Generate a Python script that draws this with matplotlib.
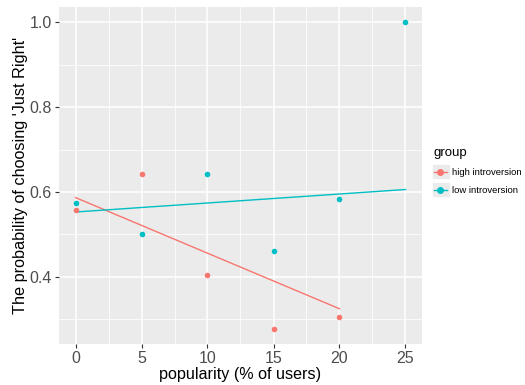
import matplotlib.pyplot as plt
from matplotlib.lines import Line2D

plt.rcParams['font.family'] = ['Liberation Sans', 'DejaVu Sans']

# point data
high_x = [0, 5, 10, 15, 20]
high_y = [0.558, 0.643, 0.405, 0.278, 0.306]
low_x = [0, 5, 10, 15, 20, 25]
low_y = [0.575, 0.500, 0.643, 0.462, 0.583, 1.000]

# fitted lines (endpoints as drawn)
high_line_x = [0, 20]
high_line_y = [0.587, 0.325]
low_line_x = [0, 25]
low_line_y = [0.553, 0.606]

x_ticks = [0, 5, 10, 15, 20, 25]
y_ticks = [0.4, 0.6, 0.8, 1.0]

red = '#F8766D'
teal = '#00BFC4'

fig = plt.figure(figsize=(5.25, 3.85), dpi=100)
ax = fig.add_axes([59 / 525, 1 - 344 / 385, (422 - 59) / 525, (344 - 7) / 385])
ax.set_facecolor('#EBEBEB')

ax.plot(high_line_x, high_line_y, color=red, lw=1.0, zorder=3)
ax.plot(low_line_x, low_line_y, color=teal, lw=1.0, zorder=3)
ax.scatter(high_x, high_y, color=red, s=16, zorder=4, linewidths=0)
ax.scatter(low_x, low_y, color=teal, s=16, zorder=4, linewidths=0)

ax.set_xlim(-1.25, 26.25)
ax.set_ylim(0.242, 1.036)
ax.set_xticks(x_ticks)
ax.set_xticks([2.5, 7.5, 12.5, 17.5, 22.5], minor=True)
ax.set_yticks(y_ticks)
ax.set_yticklabels(['0.4', '0.6', '0.8', '1.0'])
ax.set_yticks([0.3, 0.5, 0.7, 0.9], minor=True)
ax.grid(which='major', color='white', lw=1.1)
ax.grid(which='minor', color='white', lw=0.55)
ax.set_axisbelow(True)
for s in ax.spines.values():
    s.set_visible(False)
ax.tick_params(which='major', length=3, color='#333333', labelsize=11.5,
               labelcolor='#4D4D4D', pad=2)
ax.tick_params(which='minor', length=0)

ax.set_xlabel('popularity (% of users)', fontsize=11.6, labelpad=1)
ax.set_ylabel("The probability of choosing 'Just Right'", fontsize=11.7, labelpad=1)

handles = [
    Line2D([], [], color=red, marker='o', markersize=4, lw=1.0),
    Line2D([], [], color=teal, marker='o', markersize=4, lw=1.0),
]
leg = fig.legend(handles, ['high introversion', 'low introversion'], title='group',
                 loc='upper left', bbox_to_anchor=(434 / 525, 1 - 147 / 385),
                 frameon=False, fontsize=6.8, title_fontsize=9.5,
                 handlelength=1.35, handletextpad=0.55, labelspacing=0.95,
                 borderpad=0, borderaxespad=0)
leg._legend_box.align = 'left'

# grey key backgrounds as in ggplot legends
for y0 in (165, 183):
    fig.patches.append(plt.Rectangle((433 / 525, 1 - (y0 + 13) / 385), 16 / 525, 13 / 385,
                                     transform=fig.transFigure, color='#EBEBEB',
                                     zorder=0, figure=fig))

fig.savefig('out.png', dpi=100)
